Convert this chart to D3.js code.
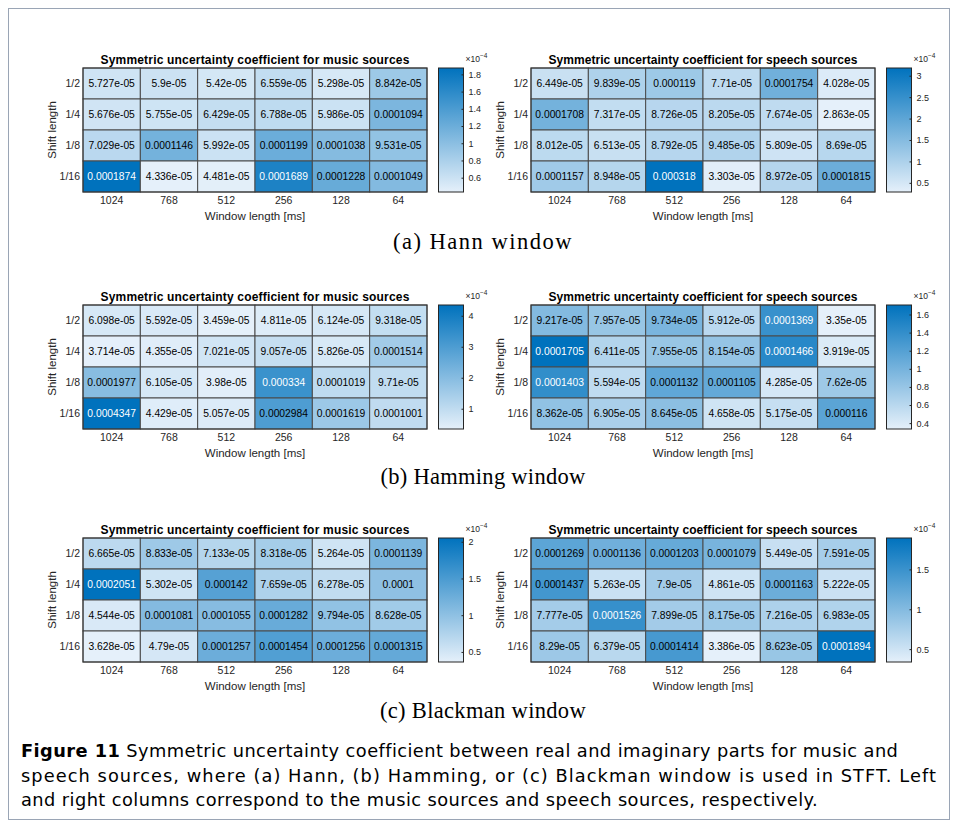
<!DOCTYPE html>
<html><head><meta charset="utf-8">
<script src="https://cdn.jsdelivr.net/npm/d3@7"></script>
<style>body{margin:0;background:#fff}svg{display:block}</style>
</head><body>
<svg id="fig" width="956" height="824"></svg>
<script>
// ---------- data ----------
const windowLengths = ["1024", "768", "512", "256", "128", "64"];
const shiftLengths = ["1/2", "1/4", "1/8", "1/16"];
const panelTitles = ["Symmetric uncertainty coefficient for music sources", "Symmetric uncertainty coefficient for speech sources"];
const subCaptions = ["(a) Hann window", "(b) Hamming window", "(c) Blackman window"];

const hannMusic = [
  [5.727e-05, 5.9e-05, 5.42e-05, 6.559e-05, 5.298e-05, 8.842e-05],
  [5.676e-05, 5.755e-05, 6.429e-05, 6.788e-05, 5.986e-05, 0.0001094],
  [7.029e-05, 0.0001146, 5.992e-05, 0.0001199, 0.0001038, 9.531e-05],
  [0.0001874, 4.336e-05, 4.481e-05, 0.0001689, 0.0001228, 0.0001049]
];
const hannSpeech = [
  [6.449e-05, 9.839e-05, 0.000119, 7.71e-05, 0.0001754, 4.028e-05],
  [0.0001708, 7.317e-05, 8.726e-05, 8.205e-05, 7.674e-05, 2.863e-05],
  [8.012e-05, 6.513e-05, 8.792e-05, 9.485e-05, 5.809e-05, 8.69e-05],
  [0.0001157, 8.948e-05, 0.000318, 3.303e-05, 8.972e-05, 0.0001815]
];
const hammingMusic = [
  [6.098e-05, 5.592e-05, 3.459e-05, 4.811e-05, 6.124e-05, 9.318e-05],
  [3.714e-05, 4.355e-05, 7.021e-05, 9.057e-05, 5.826e-05, 0.0001514],
  [0.0001977, 6.105e-05, 3.98e-05, 0.000334, 0.0001019, 9.71e-05],
  [0.0004347, 4.429e-05, 5.057e-05, 0.0002984, 0.0001619, 0.0001001]
];
const hammingSpeech = [
  [9.217e-05, 7.957e-05, 9.734e-05, 5.912e-05, 0.0001369, 3.35e-05],
  [0.0001705, 6.411e-05, 7.955e-05, 8.154e-05, 0.0001466, 3.919e-05],
  [0.0001403, 5.594e-05, 0.0001132, 0.0001105, 4.285e-05, 7.62e-05],
  [8.362e-05, 6.905e-05, 8.645e-05, 4.658e-05, 5.175e-05, 0.000116]
];
const blackmanMusic = [
  [6.665e-05, 8.833e-05, 7.133e-05, 8.318e-05, 5.264e-05, 0.0001139],
  [0.0002051, 5.302e-05, 0.000142, 7.659e-05, 6.278e-05, 0.0001],
  [4.544e-05, 0.0001081, 0.0001055, 0.0001282, 9.794e-05, 8.628e-05],
  [3.628e-05, 4.79e-05, 0.0001257, 0.0001454, 0.0001256, 0.0001315]
];
const blackmanSpeech = [
  [0.0001269, 0.0001136, 0.0001203, 0.0001079, 5.449e-05, 7.591e-05],
  [0.0001437, 5.263e-05, 7.9e-05, 4.861e-05, 0.0001163, 5.222e-05],
  [7.777e-05, 0.0001526, 7.899e-05, 8.175e-05, 7.216e-05, 6.983e-05],
  [8.29e-05, 6.379e-05, 0.0001414, 3.386e-05, 8.623e-05, 0.0001894]
];
// colorbar tick labels (x 1e-4)
const hannMusicTicks = [0.6, 0.8, 1, 1.2, 1.4, 1.6, 1.8];
const hannSpeechTicks = [0.5, 1, 1.5, 2, 2.5, 3];
const hammingMusicTicks = [1, 2, 3, 4];
const hammingSpeechTicks = [0.4, 0.6, 0.8, 1, 1.2, 1.4, 1.6];
const blackmanMusicTicks = [0.5, 1, 1.5, 2];
const blackmanSpeechTicks = [0.5, 1, 1.5];

const captionLines = [
  ["Figure 11", " Symmetric uncertainty coefficient between real and imaginary parts for music and"],
  ["", "speech sources, where (a) Hann, (b) Hamming, or (c) Blackman window is used in STFT. Left"],
  ["", "and right columns correspond to the music sources and speech sources, respectively."]
];
const captionWidths = [877, 916, 797];
const subCaptionWidths = [180, 205, 206];

// ---------- helpers ----------
function g4(v) {
  const e = Math.floor(Math.log10(Math.abs(v)));
  if (e < -4) {
    let [m, ex] = v.toExponential(3).split("e");
    m = m.replace(/\.?0+$/, "");
    const sign = ex[0] === "-" ? "-" : "+";
    let d = ex.replace(/[+-]/, "");
    if (d.length < 2) d = "0" + d;
    return m + "e" + sign + d;
  }
  return String(Number(v.toPrecision(4)));
}
function spreadTo(textSel, target) {
  const node = textSel.node();
  const w = node.getComputedTextLength();
  const n = node.textContent.length;
  textSel.attr("letter-spacing", ((target - w) / n).toFixed(3));
}

const svg = d3.select("#fig");
const SANS = "'Liberation Sans', Arial, sans-serif";
const NARROW = "'Liberation Sans Narrow', 'Arial Narrow', 'Liberation Sans', sans-serif";
const LIGHT = "rgb(229,240,250)", DARK = "rgb(0,114,189)";

// outer frame
svg.append("rect").attr("x", 8.5).attr("y", 8.5).attr("width", 941).attr("height", 811)
  .attr("fill", "none").attr("stroke", "#9aa5b5").attr("stroke-width", 1);

const GW = 344, GH = 124;
const colX = [83, 531];
const rowY = [68, 305, 538];
const capY = [249, 484, 718];

function drawPanel(gx, gy, data, ticks, title, id) {
  const g = svg.append("g").attr("transform", `translate(${gx},${gy})`);
  const x = d3.scaleBand().domain(windowLengths).range([0, GW]);
  const y = d3.scaleBand().domain(shiftLengths).range([0, GH]);
  const flat = data.flat();
  const ext = d3.extent(flat);
  const color = d3.scaleLinear().domain(ext).range([LIGHT, DARK]).interpolate(d3.interpolateRgb);
  const cells = [];
  data.forEach((row, i) => row.forEach((v, j) => cells.push({ r: shiftLengths[i], c: windowLengths[j], v })));

  g.selectAll("rect.cell").data(cells).join("rect").attr("class", "cell")
    .attr("x", d => x(d.c)).attr("y", d => y(d.r))
    .attr("width", x.bandwidth()).attr("height", y.bandwidth())
    .attr("fill", d => color(d.v))
    .attr("stroke", "#4a4a4a").attr("stroke-width", 1);
  g.selectAll("text.val").data(cells).join("text").attr("class", "val")
    .attr("x", d => x(d.c) + x.bandwidth() / 2).attr("y", d => y(d.r) + y.bandwidth() / 2 + 3.7)
    .attr("text-anchor", "middle").attr("font-family", SANS).attr("font-size", 10.3)
    .attr("fill", d => ((d.v - ext[0]) / (ext[1] - ext[0]) > 0.73 ? "#fff" : "#000"))
    .text(d => g4(d.v));
  g.append("rect").attr("x", 0).attr("y", 0).attr("width", GW).attr("height", GH)
    .attr("fill", "none").attr("stroke", "#333").attr("stroke-width", 1);

  // x axis
  const xa = g.append("g").attr("transform", `translate(0,${GH})`)
    .call(d3.axisBottom(x).tickSize(0).tickPadding(5));
  xa.select(".domain").remove();
  xa.selectAll("text").attr("font-family", NARROW).attr("font-size", 10.5).attr("fill", "#262626");
  // y axis
  const ya = g.append("g").call(d3.axisLeft(y).tickSize(0).tickPadding(3));
  ya.select(".domain").remove();
  ya.selectAll("text").attr("font-family", NARROW).attr("font-size", 10.5).attr("fill", "#262626");

  g.append("text").attr("x", GW / 2).attr("y", GH + 28).attr("text-anchor", "middle")
    .attr("font-family", SANS).attr("font-size", 11.5).attr("fill", "#262626").text("Window length [ms]");
  g.append("text").attr("transform", `translate(-27,${GH / 2}) rotate(-90)`).attr("text-anchor", "middle")
    .attr("font-family", SANS).attr("font-size", 11.5).attr("fill", "#262626").text("Shift length");
  const t = g.append("text").attr("x", GW / 2).attr("y", -4).attr("text-anchor", "middle")
    .attr("font-family", SANS).attr("font-weight", "bold").attr("font-size", 12).attr("fill", "#000").text(title);
  spreadTo(t, 309);

  // colorbar
  const cbx = GW + 11.5, cbw = 25;
  const grad = svg.append("defs").append("linearGradient").attr("id", "grad" + id)
    .attr("x1", 0).attr("y1", 1).attr("x2", 0).attr("y2", 0);
  grad.append("stop").attr("offset", 0).attr("stop-color", LIGHT);
  grad.append("stop").attr("offset", 1).attr("stop-color", DARK);
  g.append("rect").attr("x", cbx).attr("y", 0).attr("width", cbw).attr("height", GH)
    .attr("fill", `url(#grad${id})`).attr("stroke", "#262626").attr("stroke-width", 1);
  const cs = d3.scaleLinear().domain([ext[0] * 1e4, ext[1] * 1e4]).range([GH, 0]);
  const ca = g.append("g").attr("transform", `translate(${cbx + cbw},0)`)
    .call(d3.axisRight(cs).tickValues(ticks).tickSize(-2).tickPadding(5).tickFormat(d3.format("~g")));
  ca.select(".domain").remove();
  ca.selectAll("line").attr("stroke", "#262626");
  ca.selectAll("text").attr("font-family", SANS).attr("font-size", 9).attr("fill", "#262626");
  const m = g.append("text").attr("x", cbx + cbw + 2).attr("y", -6)
    .attr("font-family", SANS).attr("font-size", 8.5).attr("fill", "#262626");
  m.append("tspan").text("\u00d710");
  m.append("tspan").attr("dy", -4).attr("font-size", 6.5).text("\u22124");
}

const sets = [
  [hannMusic, hannMusicTicks, hannSpeech, hannSpeechTicks],
  [hammingMusic, hammingMusicTicks, hammingSpeech, hammingSpeechTicks],
  [blackmanMusic, blackmanMusicTicks, blackmanSpeech, blackmanSpeechTicks]
];
sets.forEach((s, r) => {
  drawPanel(colX[0], rowY[r], s[0], s[1], panelTitles[0], r + "m");
  drawPanel(colX[1], rowY[r], s[2], s[3], panelTitles[1], r + "s");
  const c = svg.append("text").attr("x", 483).attr("y", capY[r]).attr("text-anchor", "middle")
    .attr("font-family", "'Liberation Serif', 'Times New Roman', serif").attr("font-size", 22.5)
    .attr("fill", "#000").text(subCaptions[r]);
  spreadTo(c, subCaptionWidths[r]);
});

// figure caption
captionLines.forEach((ln, i) => {
  const t = svg.append("text").attr("x", 21).attr("y", 757 + i * 24.5)
    .attr("font-family", "'DejaVu Sans', sans-serif").attr("font-size", 17.8).attr("fill", "#000");
  if (ln[0]) t.append("tspan").attr("font-weight", "bold").text(ln[0]);
  t.append("tspan").text(ln[1]);
  spreadTo(t, captionWidths[i]);
});
</script>
</body></html>
